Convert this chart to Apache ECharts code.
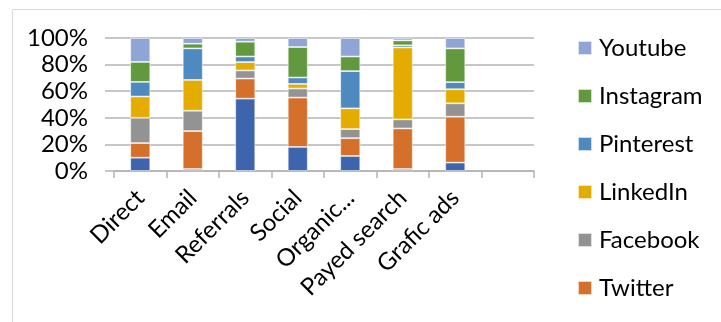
<!DOCTYPE html>
<html>
<head>
<meta charset="utf-8">
<script src="https://cdn.jsdelivr.net/npm/echarts@6/dist/echarts.min.js"></script>
<style>
  html, body { margin: 0; padding: 0; background: #fff; }
  #chart { width: 721px; height: 322px; }
</style>
</head>
<body>
<div id="chart"></div>
<script>
// categories (last slot is empty in the original)
const categories = ['Direct', 'Email', 'Referrals', 'Social', 'Organic...', 'Payed search', 'Grafic ads', ''];

// share per channel, in % (bottom to top)
const other     = [10,   1.5, 54.4, 18.1, 11.3,  1.5,  6.3, null];
const twitter   = [11,  28.5, 15.1, 37.1, 13.4, 30.5, 34.5, null];
const facebook  = [19,  15.3,  6.1,  6.8,  6.8,  6.8, 10.1, null];
const linkedin  = [16,  23.2,  6.3,  3.5, 15.6, 54.1, 10.6, null];
const pinterest = [11,  23.7,  4.2,  4.8, 28,    1.6,  5.3, null];
const instagram = [15,   3.5, 11.1, 22.9, 11,    3.7, 25.4, null];
const youtube   = [18,   4.3,  2.8,  6.8, 13.9,  1.8,  7.8, null];

const yTicks = [0, 20, 40, 60, 80, 100];

const font = 'Lato';
const fs = 24;
const chart = echarts.init(document.getElementById('chart'));

const mk = (name, data, color) => ({
    name: name,
    type: 'bar',
    stack: 'total',
    barWidth: 20,
    data: data,
    itemStyle: { color: color, borderColor: 'rgba(255,255,255,0.7)', borderWidth: 0.8 },
});

const option = {
    animation: false,
    textStyle: { fontFamily: font },
    graphic: [
        {
            type: 'rect',
            shape: { x: 12.5, y: 9.5, width: 720, height: 320 },
            style: { fill: 'none', stroke: '#d9d9d9', lineWidth: 1 },
            silent: true,
        },
    ],
    grid: { left: 114, right: 187, top: 38, bottom: 151 },
    legend: {
        orient: 'vertical',
        left: 577,
        top: 36,
        padding: 0,
        itemWidth: 14,
        itemHeight: 14,
        itemGap: 24,
        icon: 'rect',
        data: ['Youtube', 'Instagram', 'Pinterest', 'LinkedIn', 'Facebook', 'Twitter'],
        textStyle: { fontFamily: font, fontSize: fs, color: '#000', lineHeight: fs, padding: [0, 0, 0, 2] },
    },
    xAxis: {
        type: 'category',
        data: categories,
        axisLine: { lineStyle: { color: '#b4b4b4', width: 1.5 } },
        axisTick: { show: true, length: 7, lineStyle: { color: '#b4b4b4', width: 1.5 } },
        axisLabel: {
            rotate: 45,
            interval: 0,
            margin: 23,
            fontFamily: font,
            fontSize: fs,
            color: '#000',
        },
    },
    yAxis: {
        type: 'value',
        min: 0,
        max: 100,
        interval: 20,
        axisLine: { show: false },
        axisTick: { show: true, inside: false, length: 9, lineStyle: { color: '#b4b4b4', width: 1.5 } },
        splitLine: { lineStyle: { color: '#b4b4b4', width: 1.5 } },
        axisLabel: {
            margin: 26,
            fontFamily: font,
            fontSize: fs,
            color: '#000',
            formatter: v => (yTicks.includes(v) ? v + '%' : ''),
        },
    },
    series: [
        mk('Other', other, '#3e64ad'),
        mk('Twitter', twitter, '#d4702b'),
        mk('Facebook', facebook, '#939393'),
        mk('LinkedIn', linkedin, '#e5ac00'),
        mk('Pinterest', pinterest, '#4e89bf'),
        mk('Instagram', instagram, '#62993e'),
        mk('Youtube', youtube, '#8fa5d5'),
    ],
};

chart.setOption(option);
</script>
</body>
</html>
